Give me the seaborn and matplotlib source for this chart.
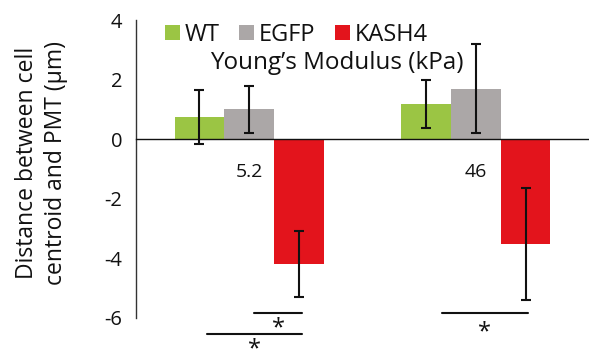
import numpy as np
import pandas as pd
import matplotlib
matplotlib.use("Agg")
import matplotlib.pyplot as plt
import seaborn as sns

# values
moduli = ["5.2", "46"]
groups = ["WT", "EGFP", "KASH4"]
wt = [0.74, 1.17]
egfp = [1.0, 1.69]
kash4 = [-4.2, -3.52]
wt_err = [0.92, 0.81]
egfp_err = [0.785, 1.5]
kash4_err = [1.11, 1.87]
colors = ["#9BC544", "#ABA7A7", "#E3141C"]

# significance brackets: x start, x end, line y, star y
sig_x0 = [0.021, -0.188, 0.852]
sig_x1 = [0.233, 0.233, 1.229]
sig_y = [-5.85, -6.56, -5.855]
star_y = [-6.37, -7.05, -6.49]

df = pd.DataFrame({
    "modulus": moduli * 3,
    "group": np.repeat(groups, len(moduli)),
    "value": wt + egfp + kash4,
})

sns.set_style("white")
plt.rcParams["font.family"] = ["Open Sans", "DejaVu Sans"]
plt.rcParams["axes.unicode_minus"] = False
txt = "#111111"

fig = plt.figure(figsize=(5.89, 3.54), dpi=100)
ax = fig.add_axes([136 / 589, 1 - 317.7 / 354, 453 / 589, 297.7 / 354])

sns.barplot(data=df, x="modulus", y="value", hue="group", order=moduli,
            hue_order=groups, palette=colors, width=0.66, gap=0,
            errorbar=None, saturation=1, linewidth=0, ax=ax)

# error bars on the bar centres
for cont, e in zip(ax.containers, [wt_err, egfp_err, kash4_err]):
    xs = [b.get_x() + b.get_width() / 2 for b in cont]
    ys = [b.get_y() + b.get_height() for b in cont]
    ax.errorbar(xs, ys, yerr=e, fmt="none", ecolor=txt, elinewidth=1.5,
                capsize=3.5, capthick=1.5, zorder=4)

ax.set_xlim(-0.5, 1.5)
ax.set_ylim(-6, 4)
ax.set_yticks(range(-6, 5, 2))
ax.set_xlabel("")
ax.set_ylabel("Distance between cell\ncentroid and PMT (\u03bcm)", fontsize=16.5,
              color=txt, linespacing=1.3)
ax.yaxis.set_label_coords(-0.15, 0.52)

for s in ["top", "right"]:
    ax.spines[s].set_visible(False)
ax.spines["bottom"].set_position(("data", 0))
ax.spines["bottom"].set_color(txt)
ax.spines["bottom"].set_linewidth(1)
ax.spines["bottom"].set_zorder(5)
ax.spines["left"].set_color("#333333")
ax.spines["left"].set_linewidth(1)

ax.tick_params(axis="x", length=0, pad=17, labelsize=14, labelcolor=txt)
ax.tick_params(axis="y", length=5, width=1, color="#333333", pad=5,
               labelsize=14.5, labelcolor=txt)

h, l = ax.get_legend_handles_labels()
ax.legend(h, l, ncol=3, loc="center left", bbox_to_anchor=(0.064, 0.95),
          frameon=False, fontsize=17, handlelength=0.62, handleheight=0.62,
          handletextpad=0.2, columnspacing=0.85, borderpad=0, borderaxespad=0,
          labelcolor=txt)

ax.text(0.385, 2.57, "Young\u2019s Modulus (kPa)", ha="center", va="center",
        fontsize=17.5, color=txt)

for x0, x1, y, sy in zip(sig_x0, sig_x1, sig_y, star_y):
    ax.plot([x0, x1], [y, y], color=txt, lw=1.5, clip_on=False)
    ax.text((x0 + x1) / 2, sy, "*", ha="center", va="center", fontsize=17,
            color=txt, clip_on=False)

fig.savefig("out.png", dpi=100)
